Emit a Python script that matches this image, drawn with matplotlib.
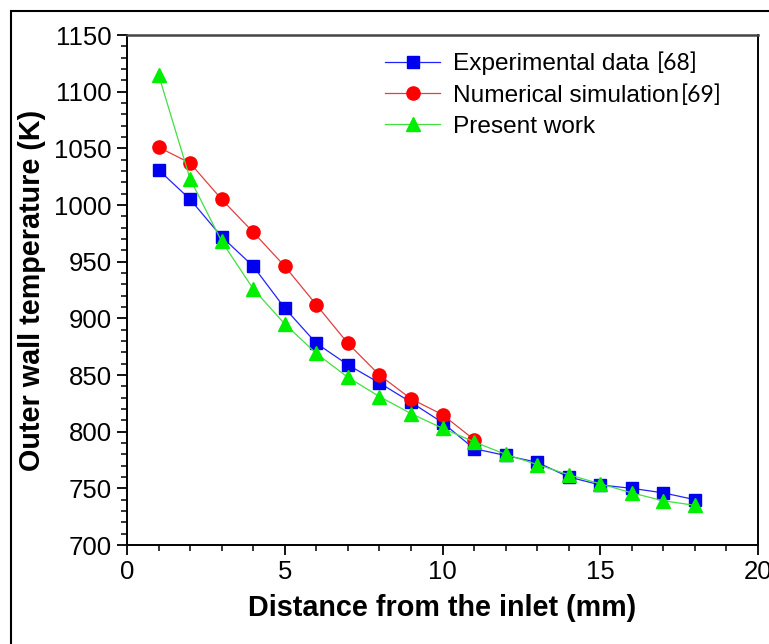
import matplotlib
matplotlib.use("Agg")
import matplotlib.pyplot as plt
from matplotlib.ticker import MultipleLocator
from matplotlib.patches import Rectangle

plt.rcParams['font.family'] = ['Liberation Sans', 'DejaVu Sans']

x_exp = [1, 2, 3, 4, 5, 6, 7, 8, 9, 10, 11, 12, 13, 14, 15, 16, 17, 18]
y_exp = [1031, 1005, 972, 946, 909, 878, 859, 843, 826, 808, 785, 779, 773, 760, 753, 750, 746, 740]
x_num = [1, 2, 3, 4, 5, 6, 7, 8, 9, 10, 11]
y_num = [1051, 1037, 1005, 976, 946, 912, 878, 850, 829, 815, 793]
x_pre = [1, 2, 3, 4, 5, 6, 7, 8, 9, 10, 11, 12, 13, 14, 15, 16, 17, 18]
y_pre = [1115, 1023, 968, 926, 895, 869, 848, 831, 816, 803, 791, 780, 771, 762, 754, 746, 739, 735]

labels = ["Experimental data", "Numerical simulation", "Present work"]
refs = ["[68]", "[69]", None]
ref_gaps = [8, 2, 0]

fig = plt.figure(figsize=(7.69, 6.44), dpi=100)
ax = fig.add_axes([127/769, 1-545/644, (758-127)/769, (545-35)/644])

ax.plot(x_exp, y_exp, color='#2222ff', lw=0.9, marker='s', ms=8.5,
        mfc='#0000ee', mec='#0000ee', label=labels[0])
ax.plot(x_num, y_num, color='#e04040', lw=0.9, marker='o', ms=9.5,
        mfc='#ff0000', mec='#ff0000', label=labels[1])
ax.plot(x_pre, y_pre, color='#44dd44', lw=0.9, marker='^', ms=10,
        mfc='#00ee00', mec='#00ee00', label=labels[2])

ax.set_xlim(0, 20)
ax.set_ylim(700, 1150)
ax.xaxis.set_major_locator(MultipleLocator(5))
ax.xaxis.set_minor_locator(MultipleLocator(1))
ax.yaxis.set_major_locator(MultipleLocator(50))
ax.yaxis.set_minor_locator(MultipleLocator(10))
ax.tick_params(which='major', direction='out', length=7, width=1.3, labelsize=18.5, pad=4)
ax.tick_params(which='minor', direction='out', length=4, width=1.1)
ax.tick_params(top=False, right=False)
for s in ['left', 'bottom', 'right']:
    ax.spines[s].set_linewidth(1.4)
    ax.spines[s].set_color('black')
ax.spines['top'].set_linewidth(1.8)
ax.spines['top'].set_color('#444444')

ax.set_xlabel("Distance from the inlet (mm)", fontsize=20.7, fontweight='bold', labelpad=7)
ax.set_ylabel("Outer wall temperature (K)", fontsize=20.7, fontweight='bold', labelpad=6)

leg = ax.legend(loc='upper left', frameon=False, fontsize=17.6, handlelength=2.25,
                handletextpad=0.53, labelspacing=0.37, borderaxespad=0.0, borderpad=0.0,
                bbox_to_anchor=((385-127)/631, 0.964))

fig.canvas.draw()
renderer = fig.canvas.get_renderer()
for txt, ref, gap in zip(leg.get_texts(), refs, ref_gaps):
    if ref is None:
        continue
    bb = txt.get_window_extent(renderer)
    fig.text((bb.x1 + gap) / fig.bbox.width, (bb.y0 + 1) / fig.bbox.height, ref,
             fontsize=16.5, family=['Lato', 'DejaVu Sans'], va='bottom', ha='left')

fig.patches.append(Rectangle((11/769, -0.1), 1.2, 1 - 11/644 + 0.1,
                             transform=fig.transFigure, fill=False,
                             edgecolor='black', lw=1.5))

fig.savefig("out.png", dpi=100)
